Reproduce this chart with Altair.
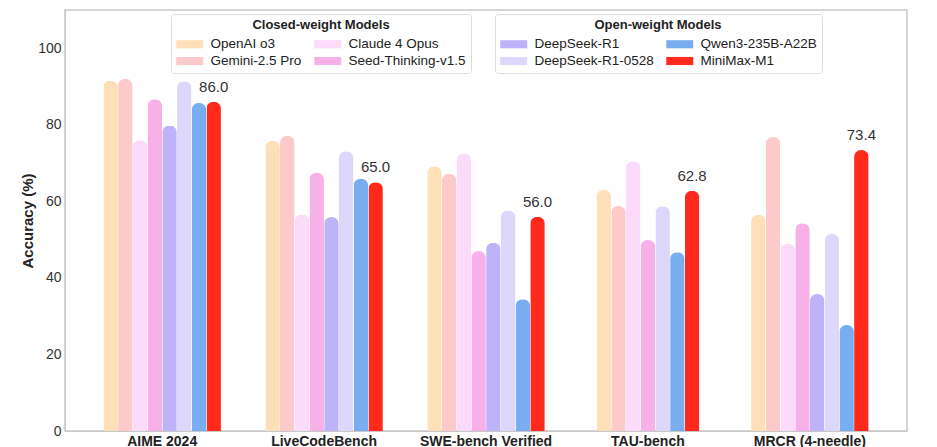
import altair as alt
import pandas as pd

benchmarks = ["AIME 2024", "LiveCodeBench", "SWE-bench Verified", "TAU-bench", "MRCR (4-needle)"]
closed_models = ["OpenAI o3", "Gemini-2.5 Pro", "Claude 4 Opus", "Seed-Thinking-v1.5"]
open_models = ["DeepSeek-R1", "DeepSeek-R1-0528", "Qwen3-235B-A22B", "MiniMax-M1"]

o3 = [91.6, 75.8, 69.1, 63.0, 56.5]
gemini = [92.0, 77.1, 67.2, 58.8, 76.8]
claude = [76.0, 56.6, 72.5, 70.5, 48.9]
seed = [86.7, 67.5, 47.0, 49.9, 54.3]
r1 = [79.8, 55.9, 49.2, None, 35.8]
r1_0528 = [91.4, 73.1, 57.6, 58.7, 51.5]
qwen = [85.7, 65.9, 34.4, 46.7, 27.7]
minimax = [86.0, 65.0, 56.0, 62.8, 73.4]

series = [o3, gemini, claude, seed, r1, r1_0528, qwen, minimax]
models = closed_models + open_models

closed_colors = ["#FDE0B8", "#FCCACA", "#FCDAFA", "#F8B0E8"]
open_colors = ["#BDB3F8", "#DDD7FC", "#78AEEF", "#FF2A1C"]

rows = []
for bi, b in enumerate(benchmarks):
    present = [(m, s[bi]) for m, s in zip(models, series) if s[bi] is not None]
    n = len(present)
    for k, (m, v) in enumerate(present):
        rows.append({
            "benchmark": b,
            "model": m,
            "value": v,
            "slot": k - (n - 1) / 2,
            "group": "closed" if m in closed_models else "open",
        })
df = pd.DataFrame(rows)

FONT = "Liberation Sans"

x_enc = alt.X("benchmark:N", sort=benchmarks,
              scale=alt.Scale(paddingInner=0, paddingOuter=0.1),
              axis=alt.Axis(title=None, labelAngle=0, labelFontWeight="bold",
                            labelFontSize=14, labelColor="#222", ticks=False,
                            domainColor="#c8c8c8", labelPadding=3))
xoff = alt.XOffset("slot:Q", scale=alt.Scale(domain=[-5.5, 5.5]))
y_enc = alt.Y("value:Q", scale=alt.Scale(domain=[0, 110], nice=False),
              axis=alt.Axis(title="Accuracy (%)", values=[0, 20, 40, 60, 80, 100],
                            grid=False, ticks=False, labelFontSize=14,
                            labelColor="#333", titleFontSize=15,
                            titleColor="#222", titleFontWeight="bold",
                            domainColor="#c8c8c8", labelPadding=4, titlePadding=2))

rect_path = "M-1,-0.6H3V0.6H-1Z"

def legend(title, lx, ly):
    return alt.Legend(title=title, orient="none", legendX=lx, legendY=ly,
                      columns=2, titleAnchor="middle",
                      titleFontSize=13, titleFontWeight="bold", titleColor="#222",
                      labelFontSize=13.5, labelColor="#222", symbolType=rect_path,
                      symbolSize=182, symbolStrokeWidth=0, symbolOpacity=1,
                      fillColor="white", strokeColor="#dddddd", padding=5,
                      cornerRadius=3, columnPadding=12, rowPadding=3,
                      labelOffset=20.5, titlePadding=5)

closed_bars = alt.Chart(df).transform_filter(alt.datum.group == "closed").mark_bar(
    width=14.5, cornerRadiusEnd=7).encode(
    x=x_enc, xOffset=xoff, y=y_enc,
    color=alt.Color("model:N",
                    scale=alt.Scale(domain=closed_models, range=closed_colors),
                    legend=legend("Closed-weight Models", 106, 4)))

open_bars = alt.Chart(df).transform_filter(alt.datum.group == "open").mark_bar(
    width=14.5, cornerRadiusEnd=7).encode(
    x=x_enc, xOffset=xoff, y=y_enc,
    color=alt.Color("model:N",
                    scale=alt.Scale(domain=open_models, range=open_colors),
                    legend=legend("Open-weight Models", 430, 4)))

labels = alt.Chart(df).transform_filter(alt.datum.model == "MiniMax-M1").mark_text(
    fontSize=15, color="#333", baseline="bottom", dy=-7, font=FONT).encode(
    x=x_enc, xOffset=xoff, y=y_enc, text=alt.Text("value:Q", format=".1f"))

chart = alt.layer(closed_bars, open_bars, labels).resolve_scale(color="independent").properties(
    width=842, height=421, padding={"left": 12, "top": 2, "right": 5, "bottom": 0}
).configure(font=FONT).configure_view(stroke="#c8c8c8", strokeWidth=1.5)

chart.save("out.html", embed_options={"renderer": "svg", "actions": False})
